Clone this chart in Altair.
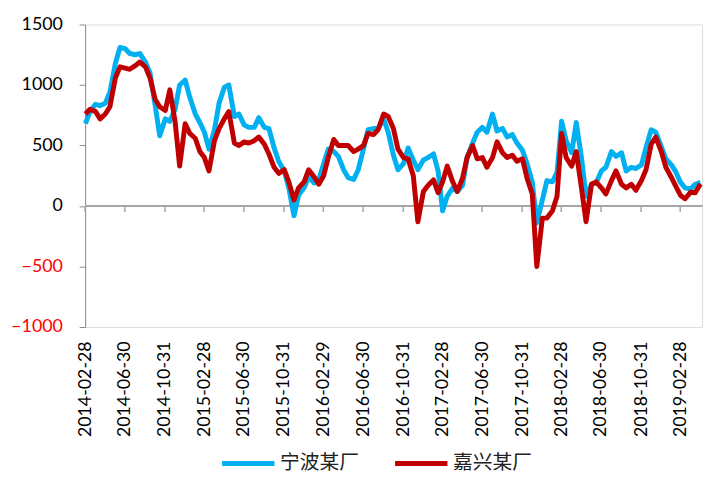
import altair as alt
import pandas as pd

# semi-monthly sample grid (1st / 15th of each month), 2014-03 .. 2019-05
dates = pd.date_range("2014-03-01", periods=125, freq="SMS").strftime("%Y-%m-%d").tolist()

ningbo = [680, 780, 840, 830, 850, 940, 1180, 1310, 1300, 1260,
          1250, 1260, 1190, 1100, 830, 580, 720, 700, 800, 1000,
          1040, 900, 760, 690, 610, 470, 630, 850, 980, 1000,
          740, 760, 670, 650, 650, 730, 650, 640, 480, 370,
          290, 150, -80, 90, 150, 240, 190, 220, 350, 470,
          450, 410, 300, 235, 220, 300, 470, 630, 640, 640,
          720, 610, 420, 300, 350, 480, 380, 300, 380, 400,
          430, 290, -40, 80, 150, 120, 170, 400, 520, 610,
          650, 610, 760, 620, 640, 570, 590, 520, 460, 350,
          200, -140, 50, 210, 200, 280, 700, 540, 440, 690,
          400, 80, 180, 190, 290, 320, 450, 410, 440, 290,
          320, 310, 340, 480, 630, 610, 490, 390, 340, 280,
          195, 150, 141, 180, 195]

jiaxing = [760, 800, 780, 720, 760, 820, 1060, 1150, 1140, 1130,
           1160, 1190, 1150, 1060, 880, 820, 790, 960, 700, 330,
           680, 600, 560, 450, 400, 290, 540, 640, 720, 780,
           520, 500, 530, 520, 540, 570, 510, 430, 320, 270,
           300, 200, 50, 150, 200, 300, 240, 180, 250, 400,
           550, 500, 500, 500, 450, 470, 500, 600, 590, 630,
           760, 740, 640, 470, 400, 390, 250, -130, 120, 170,
           215, 110, 200, 330, 200, 120, 230, 400, 500, 390,
           400, 320, 400, 530, 440, 400, 420, 370, 390, 230,
           100, -500, -100, -100, -40, 80, 600, 400, 330, 450,
           150, -130, 180, 200, 150, 100, 210, 290, 180, 150,
           180, 130, 210, 300, 510, 570, 450, 320, 236, 160,
           87, 60, 114, 110, 182]

series_names = ["宁波某厂", "嘉兴某厂"]
series_colors = ["#00B0F0", "#C00000"]

tick_dates = [(2014, 2, 28), (2014, 6, 30), (2014, 10, 31), (2015, 2, 28),
              (2015, 6, 30), (2015, 10, 31), (2016, 2, 29), (2016, 6, 30),
              (2016, 10, 31), (2017, 2, 28), (2017, 6, 30), (2017, 10, 31),
              (2018, 2, 28), (2018, 6, 30), (2018, 10, 31), (2019, 2, 28)]
y_ticks = [-1000, -500, 0, 500, 1000, 1500]

df = pd.DataFrame({
    "date": dates * 2,
    "value": ningbo + jiaxing,
    "series": [series_names[0]] * len(dates) + [series_names[1]] * len(dates),
})
ticks_df = pd.DataFrame({"date": ["%04d-%02d-%02d" % t for t in tick_dates]})

W, H = 624, 306
zero_px = H * 1500 / 2500

tick_vals = [alt.DateTime(year=y, month=m, date=d, utc=True) for (y, m, d) in tick_dates]
x_scale = alt.Scale(type="utc", domain=[alt.DateTime(year=2014, month=2, date=28, utc=True),
                                        alt.DateTime(year=2019, month=5, date=6, utc=True)])
y_scale = alt.Scale(domain=[-1000, 1500], nice=False)

x_axis = alt.Axis(values=tick_vals, labelExpr="utcFormat(datum.value, '%Y-%m-%d')",
                  labelAngle=270, labelFontSize=18, labelFont="Lato", labelColor="#000000",
                  domain=False, ticks=False, tickSize=0, grid=False, labelPadding=14,
                  title=None, labelOverlap=False)
y_axis = alt.Axis(values=y_ticks, format="d", labelFontSize=18, labelFont="Lato",
                  labelColor=alt.ExprRef("datum.value < 0 ? '#FF0000' : '#000000'"),
                  domainColor="#8C8C8C", tickColor="#8C8C8C", tickSize=6,
                  gridColor="#DDD9C8", gridWidth=1.5, labelPadding=17, title=None)

color = alt.Color("series:N",
                  scale=alt.Scale(domain=series_names, range=series_colors),
                  legend=alt.Legend(title=None, orient="none", direction="horizontal",
                                    legendX=136, legendY=415, symbolType="stroke",
                                    symbolSize=2809, symbolStrokeWidth=5,
                                    labelFontSize=20, labelFont="Noto Sans CJK SC",
                                    labelColor="#222222", labelOffset=3, columnPadding=26))

base = alt.Chart(df).encode(
    x=alt.X("date:T", scale=x_scale, axis=x_axis),
    y=alt.Y("value:Q", scale=y_scale, axis=y_axis),
    color=color,
)

blue = base.transform_filter(alt.datum.series == series_names[0]).mark_line(strokeWidth=5, strokeJoin="round")
red = base.transform_filter(alt.datum.series == series_names[1]).mark_line(strokeWidth=5, strokeJoin="round")

zero_line = alt.Chart(ticks_df).mark_rule(color="#A6A6A6", strokeWidth=1.5).encode(
    y=alt.datum(0), x=alt.value(0), x2=alt.value(W))
zero_ticks = alt.Chart(ticks_df).mark_rule(color="#A6A6A6", strokeWidth=1.5).encode(
    x=alt.X("date:T", scale=x_scale), y=alt.value(zero_px), y2=alt.value(zero_px + 6))

chart = alt.layer(zero_line, zero_ticks, blue, red).properties(
    width=W, height=H,
    autosize=alt.AutoSizeParams(type="none"),
    padding={"left": 78, "top": 14, "right": 4, "bottom": 148},
).configure_view(stroke=None).configure(background="white")

chart.save("out.html", embed_options={"renderer": "svg", "actions": False})
